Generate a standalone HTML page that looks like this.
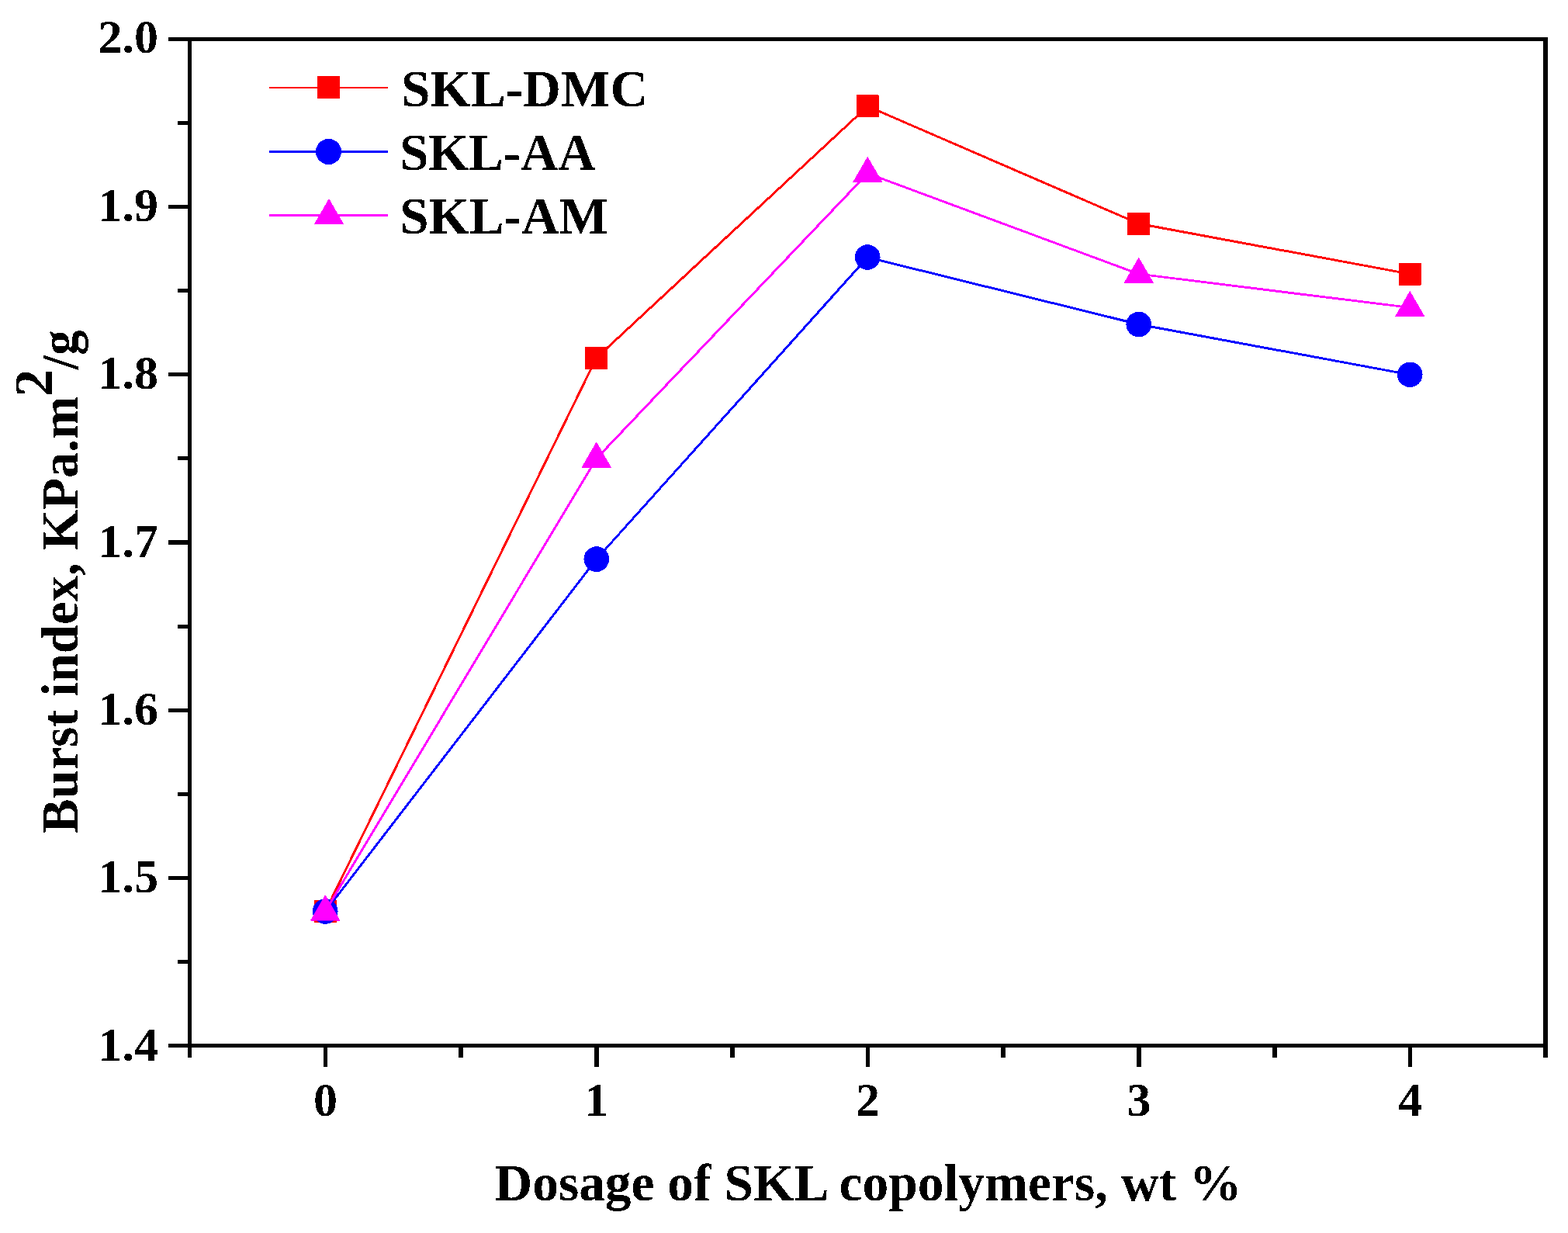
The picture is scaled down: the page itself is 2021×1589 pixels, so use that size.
<!DOCTYPE html><html><head><meta charset="utf-8"><title>Burst index vs dosage of SKL copolymers</title><style>
html,body{margin:0;padding:0;background:#fff;}body{width:2021px;height:1589px;overflow:hidden;}
svg{display:block;}text{font-family:"Liberation Serif","Times New Roman",serif;font-weight:bold;fill:#000;}
</style></head><body>
<svg width="2021" height="1589" viewBox="0 0 2021 1589">
<defs><filter id="al" x="0" y="0" width="100%" height="100%" filterUnits="userSpaceOnUse" color-interpolation-filters="sRGB"><feComponentTransfer><feFuncA type="discrete" tableValues="0 1"/></feComponentTransfer></filter></defs>
<rect x="0" y="0" width="2021" height="1589" fill="#fff"/>
<g filter="url(#al)">
<polyline points="419.25,1174.57 768.75,461.22 1118.25,136.97 1467.75,288.28 1817.25,353.13" fill="none" stroke="#ff0000" stroke-width="2.90" stroke-linejoin="round"/>
<rect x="404.75" y="1160.07" width="29" height="29" fill="#ff0000"/>
<rect x="754.25" y="446.72" width="29" height="29" fill="#ff0000"/>
<rect x="1103.75" y="122.47" width="29" height="29" fill="#ff0000"/>
<rect x="1453.25" y="273.78" width="29" height="29" fill="#ff0000"/>
<rect x="1802.75" y="338.63" width="29" height="29" fill="#ff0000"/>
<polyline points="419.25,1174.57 768.75,720.62 1118.25,331.52 1467.75,417.98 1817.25,482.83" fill="none" stroke="#0000ff" stroke-width="2.90" stroke-linejoin="round"/>
<circle cx="419.25" cy="1174.57" r="16.30" fill="#0000ff"/>
<circle cx="768.75" cy="720.62" r="16.30" fill="#0000ff"/>
<circle cx="1118.25" cy="331.52" r="16.30" fill="#0000ff"/>
<circle cx="1467.75" cy="417.98" r="16.30" fill="#0000ff"/>
<circle cx="1817.25" cy="482.83" r="16.30" fill="#0000ff"/>
<polyline points="419.25,1174.57 768.75,590.92 1118.25,223.43 1467.75,353.13 1817.25,396.37" fill="none" stroke="#ff00ff" stroke-width="2.90" stroke-linejoin="round"/>
<polygon points="419.25,1152.97 399.85,1186.47 438.65,1186.47" fill="#ff00ff"/>
<polygon points="768.75,569.32 749.35,602.82 788.15,602.82" fill="#ff00ff"/>
<polygon points="1118.25,201.83 1098.85,235.33 1137.65,235.33" fill="#ff00ff"/>
<polygon points="1467.75,331.53 1448.35,365.03 1487.15,365.03" fill="#ff00ff"/>
<polygon points="1817.25,374.77 1797.85,408.27 1836.65,408.27" fill="#ff00ff"/>
<g fill="#000">
<rect x="217" y="48" width="1778" height="5"/>
<rect x="217" y="1345" width="1774" height="5"/>
<rect x="242" y="48" width="5" height="1315"/>
<rect x="1989" y="48" width="6" height="1315"/>
<rect x="217" y="48.00" width="27" height="5"/>
<rect x="229" y="156.08" width="15" height="5"/>
<rect x="217" y="264.17" width="27" height="5"/>
<rect x="229" y="372.25" width="15" height="5"/>
<rect x="217" y="480.33" width="27" height="5"/>
<rect x="229" y="588.42" width="15" height="5"/>
<rect x="217" y="696.50" width="27" height="5"/>
<rect x="229" y="804.58" width="15" height="5"/>
<rect x="217" y="912.67" width="27" height="5"/>
<rect x="229" y="1020.75" width="15" height="5"/>
<rect x="217" y="1128.83" width="27" height="5"/>
<rect x="229" y="1236.92" width="15" height="5"/>
<rect x="217" y="1345.00" width="27" height="5"/>
<rect x="416.75" y="1347" width="5.5" height="28"/>
<rect x="591.50" y="1347" width="5.5" height="16"/>
<rect x="766.25" y="1347" width="5.5" height="28"/>
<rect x="941.00" y="1347" width="5.5" height="16"/>
<rect x="1115.75" y="1347" width="5.5" height="28"/>
<rect x="1290.50" y="1347" width="5.5" height="16"/>
<rect x="1465.25" y="1347" width="5.5" height="28"/>
<rect x="1640.00" y="1347" width="5.5" height="16"/>
<rect x="1814.75" y="1347" width="5.5" height="28"/>
</g>
<text x="204" y="68.10" font-size="62" text-anchor="end">2.0</text>
<text x="204" y="284.57" font-size="62" text-anchor="end">1.9</text>
<text x="204" y="501.04" font-size="62" text-anchor="end">1.8</text>
<text x="204" y="717.51" font-size="62" text-anchor="end">1.7</text>
<text x="204" y="933.98" font-size="62" text-anchor="end">1.6</text>
<text x="204" y="1150.45" font-size="62" text-anchor="end">1.5</text>
<text x="204" y="1366.92" font-size="62" text-anchor="end">1.4</text>
<text x="419.55" y="1437.6" font-size="62" text-anchor="middle">0</text>
<text x="769.05" y="1437.6" font-size="62" text-anchor="middle">1</text>
<text x="1118.55" y="1437.6" font-size="62" text-anchor="middle">2</text>
<text x="1468.05" y="1437.6" font-size="62" text-anchor="middle">3</text>
<text x="1817.55" y="1437.6" font-size="62" text-anchor="middle">4</text>
<text transform="translate(637.45,1546.8) scale(0.9848,1)" font-size="68.5">Dosage of SKL copolymers, wt %</text>
<text transform="translate(100,1074.00) rotate(-90) scale(0.9745,1)" font-size="68.5">Burst index, KPa.m</text>
<text transform="translate(67,511.5) rotate(-90) scale(1.04,1)" font-size="69.5">2</text>
<text transform="translate(100,476.25) rotate(-90) scale(0.956,1)" font-size="68.5">/g</text>
<rect x="347" y="111.80" width="153" height="2.4" fill="#ff0000"/>
<rect x="409.00" y="98.00" width="29" height="29" fill="#ff0000"/>
<text transform="translate(517.10,136.80) scale(0.9831,1)" font-size="68.5">SKL-DMC</text>
<rect x="347" y="194.20" width="153" height="2.4" fill="#0000ff"/>
<circle cx="423.50" cy="195.40" r="16.50" fill="#0000ff"/>
<text transform="translate(515.23,218.80) scale(0.9745,1)" font-size="68.5">SKL-AA</text>
<rect x="347" y="276.20" width="153" height="2.4" fill="#ff00ff"/>
<polygon points="424.00,255.80 404.90,288.90 443.10,288.90" fill="#ff00ff"/>
<text transform="translate(515.21,300.60) scale(0.9807,1)" font-size="68.5">SKL-AM</text>
</g>
</svg></body></html>
